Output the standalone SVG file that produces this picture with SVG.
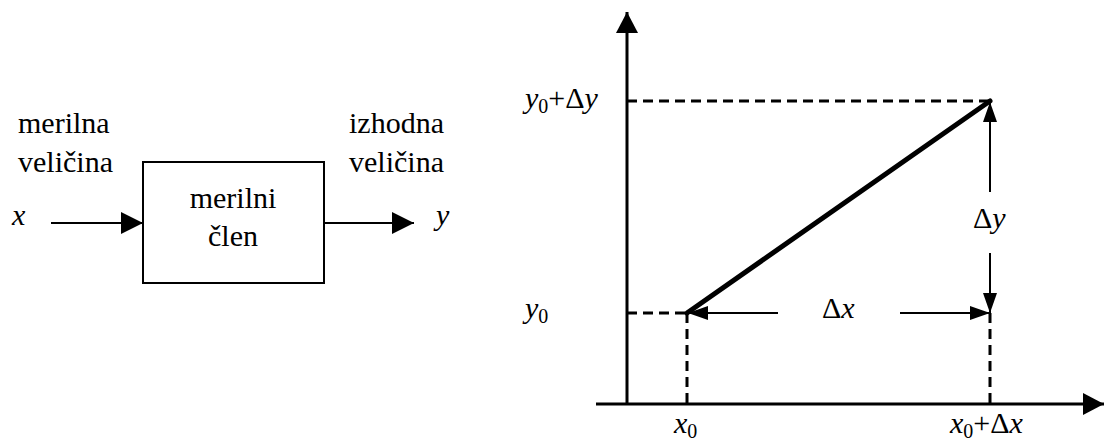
<svg xmlns="http://www.w3.org/2000/svg" width="1104" height="442" viewBox="0 0 1104 442">
<defs>
<marker id="big" markerUnits="userSpaceOnUse" markerWidth="22" markerHeight="22" refX="20" refY="10" orient="auto" viewBox="0 0 20 20"><path d="M0,0 L20,10 L0,20 Z" fill="#000"/></marker>
<marker id="ax" markerUnits="userSpaceOnUse" markerWidth="22" markerHeight="22" refX="21" refY="11" orient="auto" viewBox="0 0 22 22"><path d="M0,0 L21,11 L0,22 Z" fill="#000"/></marker>
<marker id="sm" markerUnits="userSpaceOnUse" markerWidth="20" markerHeight="14" refX="20" refY="7" orient="auto" viewBox="0 0 20 14"><path d="M0,0 L20,7 L0,14 Z" fill="#000"/></marker>
</defs>
<rect width="1104" height="442" fill="#fff"/>
<g id="block">
<rect x="143" y="162" width="181" height="121" fill="none" stroke="#000" stroke-width="2"/>
<text x="233" y="208" text-anchor="middle" font-family="Liberation Serif" font-size="30">merilni</text>
<text x="233" y="246" text-anchor="middle" font-family="Liberation Serif" font-size="30">&#269;len</text>
</g>
<g id="input-label">
<text x="18" y="133" font-family="Liberation Serif" font-size="30">merilna</text>
<text x="18" y="172" font-family="Liberation Serif" font-size="30">veli&#269;ina</text>
<text x="12" y="225" font-family="Liberation Serif" font-size="30" font-style="italic">x</text>
</g>
<g id="output-label">
<text x="349" y="133" font-family="Liberation Serif" font-size="30">izhodna</text>
<text x="349" y="172" font-family="Liberation Serif" font-size="30">veli&#269;ina</text>
<text x="436" y="225" font-family="Liberation Serif" font-size="30" font-style="italic">y</text>
</g>
<g id="labels">
<text x="525" y="108" font-family="Liberation Serif" font-size="30" font-style="italic">y<tspan font-style="normal" font-size="20" dy="5">0</tspan><tspan font-style="normal" dy="-5">+&#916;</tspan>y</text>
<text x="525" y="318" font-family="Liberation Serif" font-size="30" font-style="italic">y<tspan font-style="normal" font-size="20" dy="5">0</tspan></text>
<text x="674" y="433" font-family="Liberation Serif" font-size="30" font-style="italic">x<tspan font-style="normal" font-size="20" dy="5">0</tspan></text>
<text x="950" y="433" font-family="Liberation Serif" font-size="30" font-style="italic">x<tspan font-style="normal" font-size="20" dy="5">0</tspan><tspan font-style="normal" dy="-5">+&#916;</tspan>x</text>
<text x="822" y="318" font-family="Liberation Serif" font-size="30">&#916;<tspan font-style="italic">x</tspan></text>
<text x="973" y="228" font-family="Liberation Serif" font-size="30">&#916;<tspan font-style="italic">y</tspan></text>
</g>
<g id="axes" stroke="#000" stroke-width="3" fill="none">
<line x1="627" y1="404" x2="627" y2="12" marker-end="url(#ax)"/>
<line x1="596" y1="404" x2="1104" y2="404" marker-end="url(#ax)"/>
</g>
<g id="connectors" stroke="#000" fill="none">
<g stroke-width="2">
<line x1="51" y1="223" x2="143" y2="223" marker-end="url(#big)"/>
<line x1="324" y1="223" x2="414" y2="223" marker-end="url(#big)"/>
<line x1="778" y1="313" x2="688" y2="313" marker-end="url(#sm)"/>
<line x1="900" y1="313" x2="990" y2="313" marker-end="url(#sm)"/>
<line x1="990" y1="192" x2="990" y2="102" marker-end="url(#sm)"/>
<line x1="990" y1="253" x2="990" y2="313" marker-end="url(#sm)"/>
</g>
<g stroke-width="3" stroke-dasharray="10 6">
<line x1="627" y1="101" x2="990" y2="101"/>
<line x1="627" y1="313" x2="687" y2="313"/>
<line x1="687" y1="313" x2="687" y2="404"/>
<line x1="990" y1="313" x2="990" y2="404"/>
</g>
<line x1="687" y1="313" x2="990" y2="101" stroke-width="5" stroke-linecap="round"/>
</g>
</svg>
